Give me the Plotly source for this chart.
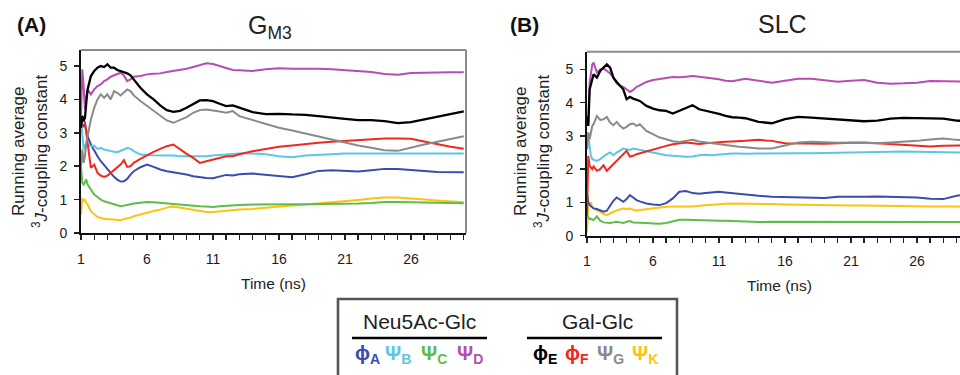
import plotly.graph_objects as go

# ---------------- data ----------------
TIME = [1.0, 1.1, 1.2, 1.3, 1.4, 1.5, 1.75, 2.0, 2.25, 2.5, 2.75, 3.0, 3.25, 3.5, 3.75,
        4.0, 4.25, 4.5, 4.75, 5.0, 5.5, 6.0, 6.5, 7.0, 7.5, 8.0, 8.5, 9.0, 9.5, 10.0,
        10.5, 11.0, 11.5, 12.0, 12.5, 13, 14, 15, 16, 17, 18, 19, 20, 21, 22, 23, 24,
        25, 26, 27, 28, 29, 30]

# Panel A: GM3
A_phiA = [3.3, 3.25, 3.2, 3.25, 3.05, 2.9, 2.65, 2.45, 2.3, 2.15, 2.03, 1.92, 1.8, 1.68, 1.6,
          1.54, 1.55, 1.62, 1.75, 1.85, 1.97, 2.05, 1.98, 1.9, 1.85, 1.82, 1.78, 1.75, 1.7, 1.67,
          1.65, 1.64, 1.7, 1.74, 1.72, 1.76, 1.78, 1.74, 1.72, 1.67, 1.76, 1.86, 1.88, 1.85, 1.84,
          1.88, 1.92, 1.92, 1.9, 1.86, 1.83, 1.82, 1.82]
A_psiB = [3.4, 2.9, 2.5, 2.62, 2.6, 2.65, 2.6, 2.62, 2.52, 2.55, 2.5, 2.48, 2.45, 2.43, 2.42,
          2.45, 2.5, 2.55, 2.52, 2.45, 2.35, 2.33, 2.33, 2.34, 2.32, 2.32, 2.3, 2.3, 2.28, 2.28,
          2.3, 2.32, 2.34, 2.36, 2.37, 2.38, 2.38, 2.36, 2.3, 2.27, 2.32, 2.35, 2.36, 2.38, 2.39,
          2.38, 2.38, 2.38, 2.38, 2.38, 2.38, 2.38, 2.38]
A_psiC = [2.0, 1.5, 1.45, 1.55, 1.6, 1.45, 1.3, 1.15, 1.08, 1.0, 0.95, 0.92, 0.88, 0.85, 0.83,
          0.8, 0.82, 0.85, 0.86, 0.88, 0.9, 0.93, 0.92, 0.9, 0.88, 0.87, 0.85, 0.84, 0.82, 0.8,
          0.79, 0.78, 0.8, 0.82, 0.83, 0.84, 0.85, 0.85, 0.84, 0.85, 0.86, 0.87, 0.87, 0.87, 0.88,
          0.9, 0.93, 0.93, 0.92, 0.9, 0.89, 0.89, 0.89]
A_psiD = [3.5, 4.9, 4.4, 3.7, 4.1, 4.3, 4.15, 4.3, 4.4, 4.45, 4.55, 4.6, 4.68, 4.72, 4.78,
          4.8, 4.72, 4.55, 4.6, 4.68, 4.7, 4.75, 4.77, 4.78, 4.82, 4.85, 4.88, 4.92, 4.97, 5.03,
          5.08, 5.06, 5.0, 4.92, 4.88, 4.87, 4.85, 4.9, 4.93, 4.92, 4.93, 4.92, 4.9, 4.88, 4.86,
          4.82, 4.76, 4.74, 4.79, 4.8, 4.82, 4.81, 4.81]
A_phiE = [3.15, 3.5, 3.35, 3.45, 3.9, 4.3, 4.7, 4.85, 4.95, 5.0, 4.97, 5.05, 4.95, 4.95, 4.88,
          4.85, 4.8, 4.78, 4.72, 4.6, 4.35, 4.15, 4.0, 3.82, 3.68, 3.63, 3.66, 3.75, 3.87, 3.97,
          3.98, 3.95, 3.87, 3.8, 3.82, 3.75, 3.62, 3.56, 3.57, 3.55, 3.54, 3.5, 3.47, 3.42, 3.38,
          3.38, 3.35, 3.29, 3.32, 3.4, 3.48, 3.56, 3.64]
A_phiF = [3.55, 3.45, 3.35, 3.3, 3.0, 2.7, 1.95, 2.05, 1.8, 1.72, 1.68, 1.72, 1.8, 1.88, 1.95,
          2.05, 2.18, 1.98, 2.0, 2.1, 2.22, 2.33, 2.43, 2.52, 2.6, 2.65, 2.5, 2.37, 2.25, 2.1,
          2.15, 2.2, 2.25, 2.3, 2.3, 2.36, 2.45, 2.52, 2.58, 2.62, 2.67, 2.7, 2.73, 2.76, 2.78,
          2.8, 2.83, 2.83, 2.82, 2.74, 2.65, 2.58, 2.52]
A_psiG = [2.0, 2.5, 2.1, 2.3, 2.7, 2.9, 3.4, 3.75, 4.0, 4.15, 4.05, 4.15, 4.0, 4.25, 4.2,
          4.12, 4.2, 4.3, 4.25, 4.12, 3.95, 3.8, 3.65, 3.5, 3.37, 3.3, 3.38, 3.47, 3.6, 3.68,
          3.7, 3.68, 3.64, 3.6, 3.65, 3.5, 3.38, 3.25, 3.15, 3.07, 2.98, 2.88, 2.8, 2.71, 2.62,
          2.55, 2.48, 2.46, 2.56, 2.65, 2.73, 2.81, 2.9]
A_psiK = [0.55, 1.05, 0.95, 1.0, 0.9, 0.85, 0.65, 0.55, 0.48, 0.45, 0.42, 0.42, 0.41, 0.42, 0.39,
          0.38, 0.42, 0.43, 0.46, 0.5, 0.56, 0.6, 0.66, 0.7, 0.76, 0.79, 0.76, 0.72, 0.69, 0.66,
          0.63, 0.63, 0.65, 0.66, 0.68, 0.7, 0.72, 0.76, 0.79, 0.82, 0.85, 0.88, 0.91, 0.95, 0.99,
          1.03, 1.06, 1.06, 1.04, 1.0, 0.97, 0.94, 0.92]

# Panel B: SLC
B_phiA = [1.3, 1.0, 0.92, 0.88, 0.85, 0.82, 0.8, 0.76, 0.72, 0.75, 0.9, 1.05, 1.15, 1.08, 1.02,
          1.1, 1.22, 1.15, 1.07, 1.03, 0.97, 0.94, 0.92, 0.98, 1.12, 1.32, 1.34, 1.28, 1.26, 1.28,
          1.3, 1.32, 1.3, 1.28, 1.25, 1.22, 1.2, 1.17, 1.16, 1.15, 1.12, 1.13, 1.17, 1.16, 1.17,
          1.18, 1.17, 1.16, 1.15, 1.11, 1.1, 1.2, 1.25]
B_psiB = [2.6, 3.1, 2.65, 2.4, 2.3, 2.28, 2.25, 2.3, 2.38, 2.45, 2.5, 2.42, 2.5, 2.55, 2.62,
          2.6, 2.58, 2.62, 2.6, 2.58, 2.55, 2.5, 2.45, 2.42, 2.4, 2.38, 2.37, 2.38, 2.42, 2.43,
          2.42, 2.44, 2.46, 2.47, 2.47, 2.46, 2.47, 2.48, 2.47, 2.48, 2.48, 2.49, 2.5, 2.51, 2.52,
          2.52, 2.52, 2.53, 2.52, 2.52, 2.51, 2.5, 2.5]
B_psiC = [0.6, 0.55, 0.5, 0.5, 0.48, 0.47, 0.58, 0.45, 0.4, 0.38, 0.38, 0.4, 0.42, 0.4, 0.38,
          0.42, 0.44, 0.4, 0.4, 0.39, 0.38, 0.37, 0.36, 0.38, 0.44, 0.48, 0.48, 0.47, 0.47, 0.46,
          0.45, 0.45, 0.45, 0.44, 0.43, 0.42, 0.41, 0.42, 0.42, 0.41, 0.41, 0.41, 0.41, 0.41, 0.41,
          0.42, 0.41, 0.41, 0.41, 0.41, 0.41, 0.41, 0.41]
B_psiD = [3.6, 3.4, 4.6, 4.9, 5.15, 5.2, 4.9, 5.0, 5.02, 4.95, 4.88, 4.75, 4.58, 4.5, 4.47,
          4.4, 4.32, 4.38, 4.47, 4.52, 4.62, 4.68, 4.72, 4.74, 4.77, 4.76, 4.78, 4.8, 4.78, 4.76,
          4.74, 4.7, 4.66, 4.64, 4.68, 4.72, 4.66, 4.6, 4.66, 4.72, 4.72, 4.68, 4.63, 4.66, 4.68,
          4.6, 4.57, 4.58, 4.6, 4.65, 4.64, 4.63, 4.63]
B_phiE = [3.6, 3.3, 4.4, 4.6, 4.7, 4.85, 4.75, 4.95, 5.05, 5.15, 5.05, 4.75, 4.62, 4.5, 4.4,
          4.1, 4.17, 4.12, 4.08, 4.05, 3.9, 3.82, 3.77, 3.75, 3.67, 3.75, 3.85, 3.92, 3.8, 3.76,
          3.72, 3.66, 3.6, 3.56, 3.55, 3.53, 3.42, 3.38, 3.5, 3.57, 3.55, 3.52, 3.48, 3.45, 3.44,
          3.46, 3.52, 3.54, 3.53, 3.54, 3.52, 3.46, 3.44]
B_phiF = [0.6, 2.4, 2.1, 2.05, 2.0, 2.08, 1.95, 2.0, 2.12, 1.95, 2.05, 2.15, 2.25, 2.35, 2.45,
          2.55, 2.38, 2.4, 2.45, 2.48, 2.53, 2.6, 2.65, 2.7, 2.75, 2.78, 2.8, 2.78, 2.76, 2.78,
          2.8, 2.82, 2.82, 2.83, 2.85, 2.85, 2.88, 2.85, 2.78, 2.77, 2.76, 2.76, 2.78, 2.8, 2.8,
          2.78, 2.76, 2.74, 2.72, 2.68, 2.7, 2.72, 2.72]
B_psiG = [2.6, 3.1, 2.9, 3.15, 3.3, 3.35, 3.6, 3.48, 3.5, 3.57, 3.4, 3.32, 3.42, 3.3, 3.22,
          3.27, 3.35, 3.37, 3.3, 3.35, 3.15, 3.05, 2.95, 2.9, 2.84, 2.82, 2.85, 2.88, 2.83, 2.8,
          2.77, 2.74, 2.72, 2.68, 2.67, 2.66, 2.62, 2.62, 2.72, 2.8, 2.82, 2.8, 2.79, 2.8, 2.79,
          2.78, 2.8, 2.82, 2.85, 2.89, 2.92, 2.88, 2.87]
B_psiK = [0.1, 1.0, 0.92, 1.0, 0.85, 0.82, 0.76, 0.72, 0.65, 0.62, 0.68, 0.72, 0.76, 0.8, 0.82,
          0.8, 0.82, 0.78, 0.76, 0.77, 0.8, 0.83, 0.86, 0.87, 0.88, 0.88, 0.87, 0.88, 0.9, 0.92,
          0.93, 0.95, 0.96, 0.97, 0.97, 0.97, 0.96, 0.95, 0.94, 0.93, 0.93, 0.92, 0.92, 0.91, 0.91,
          0.9, 0.9, 0.9, 0.89, 0.88, 0.88, 0.88, 0.88]

X_TICKS = [1, 6, 11, 16, 21, 26]
X_MINOR = list(range(1, 31))
Y_TICKS = [0, 1, 2, 3, 4, 5]

SERIES_NAMES = ["ϕA", "ψB", "ψC", "ψD", "ϕE", "ϕF", "ψG", "ψK"]
COLORS = {"ϕA": "#3A4BB2", "ψB": "#5CC6E4", "ψC": "#5CBD48", "ψD": "#B64DB3",
          "ϕE": "#000000", "ϕF": "#F0291D", "ψG": "#8A8A8A", "ψK": "#FFC20F"}

PANEL_A = {"ϕA": A_phiA, "ψB": A_psiB, "ψC": A_psiC, "ψD": A_psiD,
           "ϕE": A_phiE, "ϕF": A_phiF, "ψG": A_psiG, "ψK": A_psiK}
PANEL_B = {"ϕA": B_phiA, "ψB": B_psiB, "ψC": B_psiC, "ψD": B_psiD,
           "ϕE": B_phiE, "ϕF": B_phiF, "ψG": B_psiG, "ψK": B_psiK}

# ---------------- figure ----------------
W, H = 960, 375
FONT = "Arial, Liberation Sans, sans-serif"


def px(x):
    return x / W


def py(y):
    return 1 - y / H


fig = go.Figure()
draw_order = ["ψK", "ψC", "ϕA", "ψB", "ϕF", "ψG", "ψD", "ϕE"]
for name in draw_order:
    fig.add_trace(go.Scatter(x=TIME, y=PANEL_A[name], mode="lines", xaxis="x", yaxis="y",
                             line=dict(color=COLORS[name], width=2 if name != "ϕE" else 2.3),
                             showlegend=False, hoverinfo="skip"))
    fig.add_trace(go.Scatter(x=TIME, y=PANEL_B[name], mode="lines", xaxis="x2", yaxis="y2",
                             line=dict(color=COLORS[name], width=2 if name != "ϕE" else 2.3),
                             showlegend=False, hoverinfo="skip"))

x_ticktext = [str(v) if v in X_TICKS else "" for v in X_MINOR]
xa_common = dict(tickmode="array", tickvals=X_MINOR, ticktext=x_ticktext, ticks="outside",
                 ticklen=5, tickwidth=1.4,
                 tickcolor="#222", showline=True, linecolor="#111", linewidth=1.8,
                 showgrid=False, zeroline=False, ticklabelstandoff=7,
                 tickfont=dict(family=FONT, size=14, color="#1a1a1a"))
ya_common = dict(tickmode="array", tickvals=Y_TICKS, ticks="outside", ticklen=5, tickwidth=1.5,
                 tickcolor="#222", showline=True, linecolor="#111", linewidth=1.8,
                 showgrid=False, zeroline=False, ticklabelstandoff=4,
                 tickfont=dict(family=FONT, size=14, color="#1a1a1a"))

fig.update_layout(
    width=W, height=H, margin=dict(l=0, r=0, t=0, b=0, autoexpand=False),
    paper_bgcolor="white", plot_bgcolor="white", showlegend=False,
    xaxis=dict(domain=[px(81), px(466)], range=[1, 30.17], anchor="y", **xa_common),
    yaxis=dict(domain=[py(233), py(50)], range=[0, 5.48], anchor="x", **ya_common),
    xaxis2=dict(domain=[px(587), 1.0], range=[1, 29.26], anchor="y2", **xa_common),
    yaxis2=dict(domain=[py(235.7), py(51.7)], range=[0, 5.53], anchor="x2", **ya_common),
)

GRAY = "#8c8c8c"
shapes = [
    # panel A top and right frame
    dict(type="line", xref="paper", yref="paper", x0=px(81), x1=px(466), y0=py(50), y1=py(50),
         line=dict(color=GRAY, width=2)),
    dict(type="line", xref="paper", yref="paper", x0=px(466), x1=px(466), y0=py(233), y1=py(50),
         line=dict(color=GRAY, width=2)),
    # panel B top frame
    dict(type="line", xref="paper", yref="paper", x0=px(587), x1=1.0, y0=py(51.7), y1=py(51.7),
         line=dict(color=GRAY, width=2)),
    # legend box
    dict(type="rect", xref="paper", yref="paper", x0=px(338), x1=px(677),
         y0=py(382), y1=py(299), line=dict(color="#555555", width=2.6),
         fillcolor="white", layer="above"),
    dict(type="line", xref="paper", yref="paper", x0=px(352), x1=px(487),
         y0=py(338), y1=py(338), line=dict(color="#000", width=2.6)),
    dict(type="line", xref="paper", yref="paper", x0=px(527), x1=px(662),
         y0=py(338), y1=py(338), line=dict(color="#000", width=2.6)),
]
fig.update_layout(shapes=shapes)

ann = []


def text(x, y, s, size, color="#222", angle=0, xanchor="center"):
    ann.append(dict(x=px(x), y=py(y), xref="paper", yref="paper", text=s, showarrow=False,
                    xanchor=xanchor, yanchor="middle", textangle=angle,
                    font=dict(family=FONT, size=size, color=color)))


text(31, 25, "<b>(A)</b>", 21, "#111")
text(524, 25, "<b>(B)</b>", 21, "#111")
text(270, 27, "G<sub>M3</sub>", 25)
text(782, 24, "SLC", 25)
for cx in (18, 520):
    text(cx, 152, "Running average", 17, angle=-90)
for cx in (40, 542):
    text(cx, 152, "<sup>3</sup><i>J</i>-coupling constant", 17, angle=-90)
text(273, 283, "Time (ns)", 15.5)
text(779, 285, "Time (ns)", 15.5)
text(419, 321, "Neu5Ac-Glc", 21)
text(597, 321, "Gal-Glc", 21)

sym_x = {"ϕA": 367, "ψB": 398, "ψC": 434, "ψD": 470, "ϕE": 545, "ϕF": 577, "ψG": 610, "ψK": 645}
for name in SERIES_NAMES:
    s = "<b>%s<sub>%s</sub></b>" % (name[0].replace("ψ", "Ψ"), name[1])
    text(sym_x[name], 354, s, 20, COLORS[name])

fig.update_layout(annotations=ann)
fig.write_html("out.html", config={"displayModeBar": False, "staticPlot": True},
               post_script="document.body.style.margin='0';document.body.style.overflow='hidden';")
